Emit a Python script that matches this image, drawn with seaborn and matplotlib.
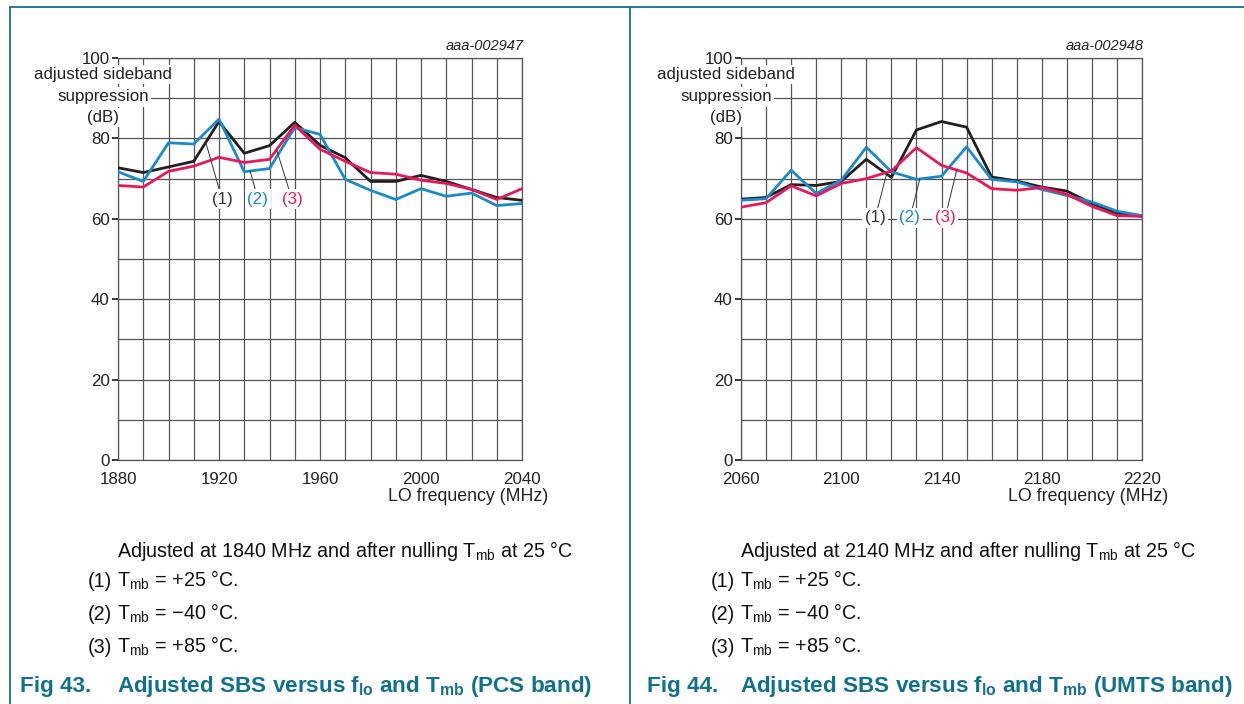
import numpy as np
import pandas as pd
import matplotlib.pyplot as plt
import seaborn as sns
from matplotlib.lines import Line2D

# LO frequency steps (MHz)
freq_pcs = [1880, 1890, 1900, 1910, 1920, 1930, 1940, 1950, 1960, 1970, 1980, 1990, 2000, 2010, 2020, 2030, 2040]
freq_umts = [2060, 2070, 2080, 2090, 2100, 2110, 2120, 2130, 2140, 2150, 2160, 2170, 2180, 2190, 2200, 2210, 2220]

# adjusted sideband suppression (dB), PCS band
pcs_25 = [72.7, 71.5, 72.9, 74.3, 84.2, 76.3, 78.2, 84.0, 78.3, 75.2, 69.3, 69.3, 70.8, 69.3, 67.3, 65.3, 64.6]
pcs_m40 = [71.7, 69.3, 78.9, 78.6, 84.8, 71.7, 72.5, 82.7, 81.0, 69.8, 67.1, 64.8, 67.5, 65.6, 66.4, 63.3, 63.8]
pcs_85 = [68.3, 67.9, 71.8, 73.1, 75.3, 74.0, 74.8, 83.3, 77.3, 74.3, 71.5, 71.1, 69.6, 68.8, 67.3, 64.8, 67.5]

# adjusted sideband suppression (dB), UMTS band
umts_25 = [64.9, 65.3, 68.5, 68.3, 69.3, 74.8, 70.3, 82.1, 84.2, 82.8, 70.4, 69.4, 67.9, 66.9, 63.8, 61.4, 60.6]
umts_m40 = [64.6, 65.0, 72.1, 66.3, 69.6, 77.8, 71.7, 69.8, 70.6, 77.9, 69.8, 69.2, 67.3, 65.8, 64.2, 61.9, 60.8]
umts_85 = [62.9, 64.0, 68.2, 65.7, 68.8, 70.0, 71.9, 77.7, 73.3, 71.4, 67.5, 67.1, 67.8, 66.1, 63.1, 60.8, 60.6]

series_names = ['(1)', '(2)', '(3)']
series_colors = ['#231f20', '#1a8bc9', '#e8195b']
note_temps = ['+25', '\u221240', '+85']

fig_ids = ['aaa-002947', 'aaa-002948']
adjusted_at = [1840, 2140]
captions = ['PCS band', 'UMTS band']

teal = '#12718c'
ink = '#222222'

sns.set_theme(style='white')
plt.rcParams['font.family'] = ['Liberation Sans', 'DejaVu Sans']
plt.rcParams['mathtext.fontset'] = 'custom'
plt.rcParams['mathtext.rm'] = 'Liberation Sans'
plt.rcParams['mathtext.bf'] = 'Liberation Sans:bold'
plt.rcParams['mathtext.default'] = 'rm'

fig = plt.figure(figsize=(12.44, 7.04), dpi=100)

W, H = 1244, 704
panels = [
    dict(freq=freq_pcs, vals=[pcs_25, pcs_m40, pcs_85], left=118, right=522,
         labels=[(1921.2, 64.9), (1935.4, 64.9), (1948.9, 64.9)],
         targets=[(1915.0, 78.5), (1932.3, 72.0), (1942.8, 77.2)]),
    dict(freq=freq_umts, vals=[umts_25, umts_m40, umts_85], left=741, right=1142,
         labels=[(2113.5, 60.2), (2127.4, 60.2), (2141.4, 60.2)],
         targets=[(2118.2, 71.4), (2131.4, 70.0), (2146.1, 72.2)]),
]

top_px, bot_px = 58, 460
fs_axis = 12.2
fs_note = 14.2

for k, p in enumerate(panels):
    ax = fig.add_axes([p['left'] / W, (H - bot_px) / H, (p['right'] - p['left']) / W, (bot_px - top_px) / H])

    df = pd.DataFrame({
        'freq': np.tile(p['freq'], 3),
        'sbs': np.concatenate(p['vals']),
        'curve': np.repeat(series_names, len(p['freq'])),
    })
    sns.lineplot(data=df, x='freq', y='sbs', hue='curve', palette=series_colors,
                 linewidth=2.0, legend=False, ax=ax, zorder=4)

    f0, f1 = p['freq'][0], p['freq'][-1]
    ax.set_xlim(f0, f1)
    ax.set_ylim(0, 100)
    ax.set_xticks(np.arange(f0, f1 + 1, 40))
    ax.set_xticks(np.arange(f0, f1 + 1, 10), minor=True)
    ax.set_yticks(np.arange(0, 101, 20))
    ax.set_yticks(np.arange(0, 101, 10), minor=True)
    ax.grid(True, which='both', color='#555555', linewidth=0.9)
    ax.set_axisbelow(True)
    for s in ax.spines.values():
        s.set_color('#555555')
        s.set_linewidth(0.9)
    ax.tick_params(axis='x', which='both', length=0, pad=9, labelsize=fs_axis, colors=ink)
    ax.tick_params(axis='y', which='major', length=4, pad=2, labelsize=fs_axis, colors=ink, left=True)
    ax.tick_params(axis='y', which='minor', length=0)
    ax.set_xlabel('')
    ax.set_ylabel('')

    # axis titles
    for line, yy in zip(['adjusted sideband', 'suppression', '(dB)'], [0.958, 0.903, 0.853]):
        ax.text(-0.037, yy, line, transform=ax.transAxes, ha='center', va='center',
                fontsize=fs_axis, color=ink,
                bbox=dict(boxstyle='square,pad=0.12', fc='white', ec='none'), zorder=5)
    ax.text(1.065, -0.092, 'LO frequency (MHz)', transform=ax.transAxes,
            ha='right', va='center', fontsize=fs_axis + 0.6, color=ink)
    ax.text(1.005, 1.03, fig_ids[k], transform=ax.transAxes, ha='right', va='center',
            fontsize=10.5, style='italic', color=ink)

    # curve labels with leader lines
    for (lx, ly), (tx, ty), name, c in zip(p['labels'], p['targets'], series_names, series_colors):
        ax.annotate(name, xy=(tx, ty), xytext=(lx, ly), ha='center', va='center',
                    fontsize=fs_axis, color=c if name != '(1)' else '#333333',
                    bbox=dict(boxstyle='square,pad=0.15', fc='white', ec='none'),
                    arrowprops=dict(arrowstyle='-', color='#333333', lw=0.7,
                                    shrinkA=0, shrinkB=0), zorder=5)

    # notes under the chart
    x0 = (p['left'] - 1) / W
    xn = (p['left'] - 30) / W
    fig.text(x0, 1 - 557 / H, 'Adjusted at %d MHz and after nulling T$_{mb}$ at 25 °C' % adjusted_at[k],
             ha='left', va='baseline', fontsize=fs_note, color='#111111')
    for i, t in enumerate(note_temps):
        yy = 1 - (587 + 33 * i) / H
        fig.text(xn, yy, series_names[i], ha='left', va='baseline', fontsize=fs_note, color='#111111')
        fig.text(x0, yy, 'T$_{mb}$ = %s °C.' % t, ha='left', va='baseline', fontsize=fs_note, color='#111111')

    cx = 20 / W if k == 0 else 647 / W
    fig.text(cx, 1 - 692 / H, 'Fig %d.' % (43 + k), ha='left', va='baseline', fontsize=16.2,
             fontweight='bold', color=teal)
    fig.text(x0, 1 - 692 / H,
             r'Adjusted SBS versus f$_{\mathbf{lo}}$ and T$_{\mathbf{mb}}$ (%s)' % captions[k],
             ha='left', va='baseline', fontsize=16.2, fontweight='bold', color=teal)

# frame lines
fig.add_artist(Line2D([10 / W, 1], [1 - 7 / H, 1 - 7 / H], color=teal, lw=1.3))
fig.add_artist(Line2D([10 / W, 10 / W], [0, 1 - 7 / H], color=teal, lw=1.3))
fig.add_artist(Line2D([630 / W, 630 / W], [0, 1 - 7 / H], color=teal, lw=1.3))

plt.savefig('out.png', dpi=100)
